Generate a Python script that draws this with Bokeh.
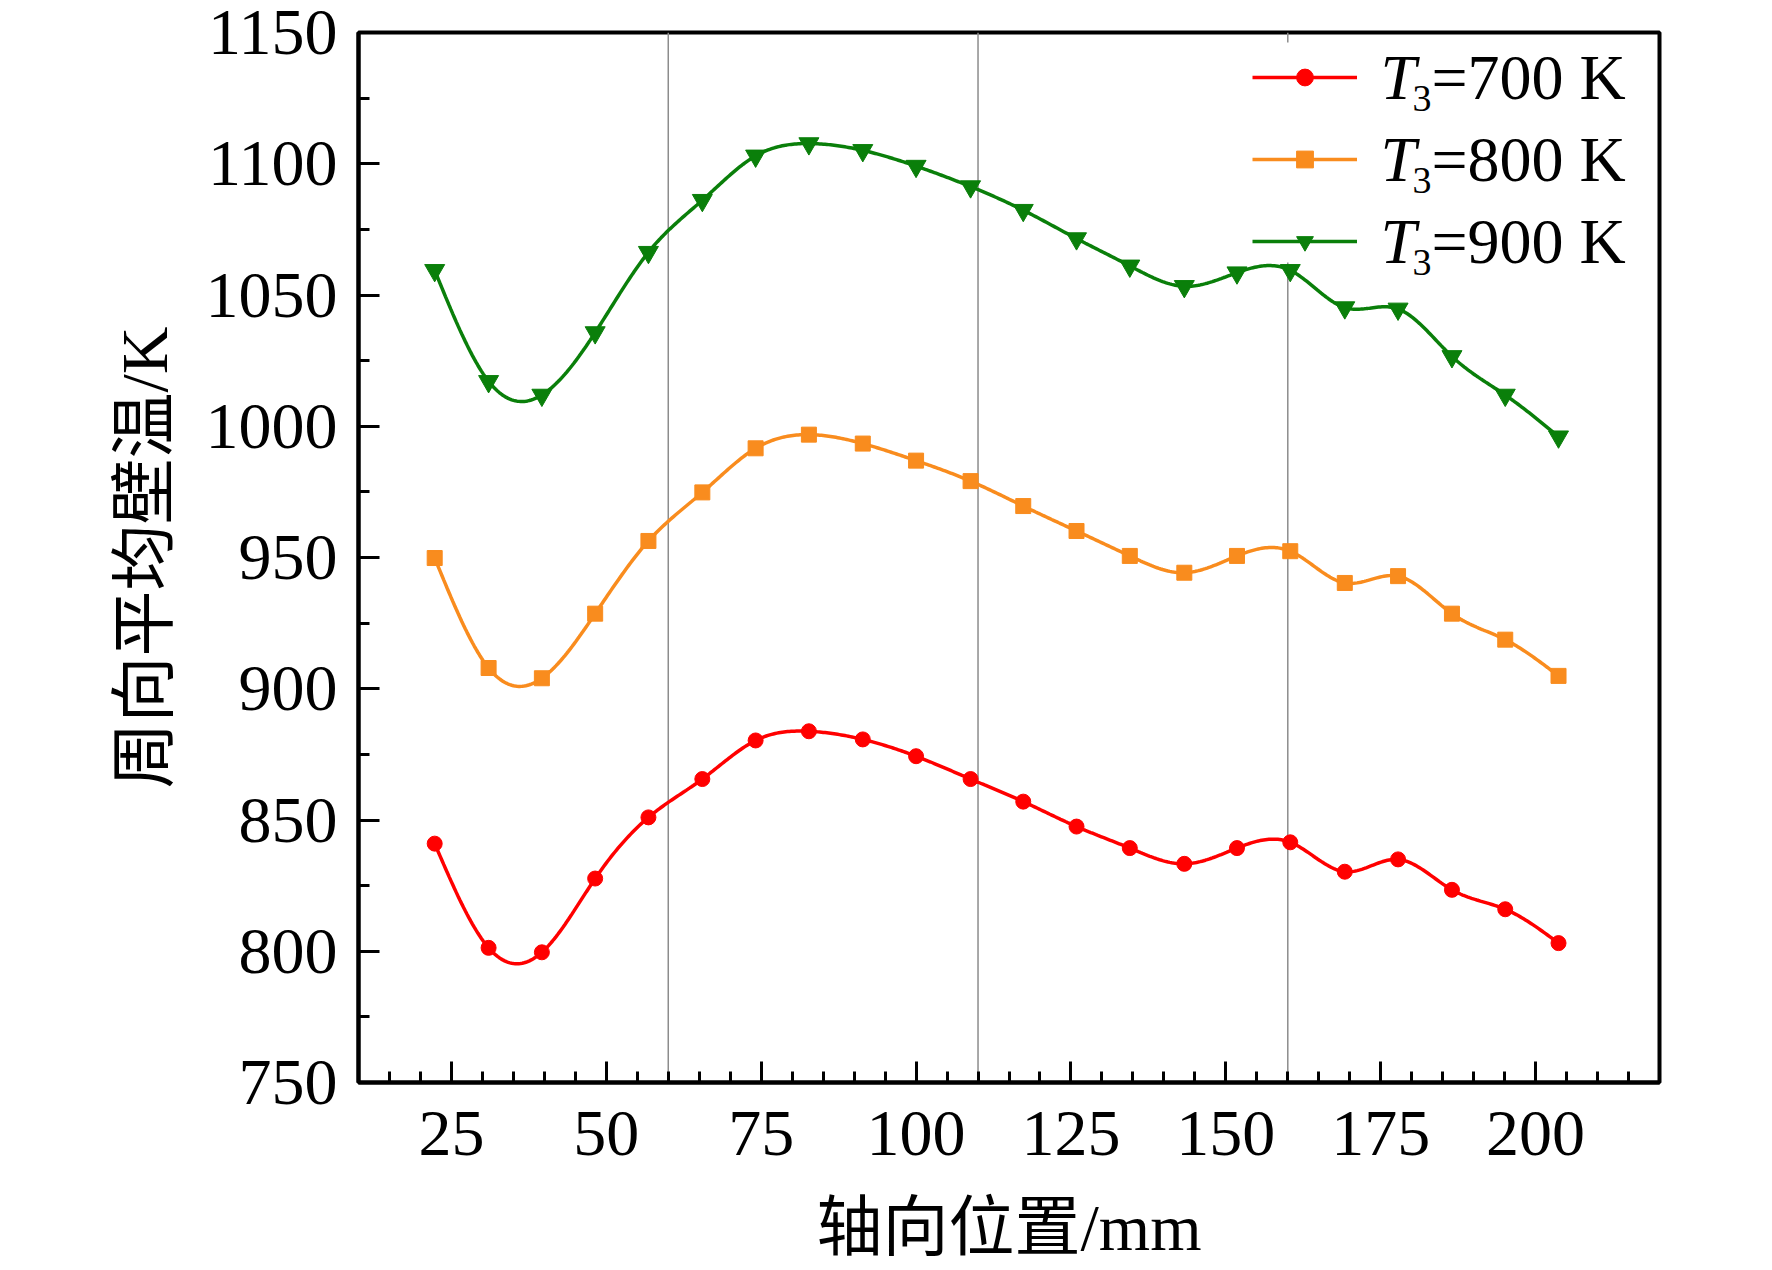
import numpy as np
from bokeh.plotting import figure
from bokeh.models import (Range1d, SingleIntervalTicker, Span, Legend, LegendItem, Label,
                          BoxAnnotation)
from bokeh.embed import file_html
from bokeh.resources import INLINE

# ---- data ----
x_mm = [22.3, 31.0, 39.6, 48.2, 56.8, 65.5, 74.1, 82.7, 91.4, 100.0, 108.8,
        117.3, 125.9, 134.5, 143.3, 151.8, 160.4, 169.2, 177.8, 186.5, 195.1, 203.7]
t700 = [841.0, 801.3, 799.6, 827.7, 851.0, 865.6, 880.3, 883.8, 880.7, 874.3, 865.6,
        857.0, 847.5, 839.3, 833.3, 839.3, 841.5, 830.3, 835.0, 823.4, 816.0, 803.1]
t800 = [949.8, 907.9, 904.0, 928.6, 956.3, 974.8, 991.6, 996.8, 993.4, 986.9, 979.1,
        969.6, 960.1, 950.6, 944.2, 950.6, 952.4, 940.3, 942.9, 928.6, 918.7, 904.9]
t900 = [1059.4, 1017.1, 1011.9, 1035.7, 1066.3, 1086.1, 1103.0, 1107.7, 1105.1, 1099.1, 1091.3,
        1082.3, 1071.5, 1061.1, 1053.3, 1058.5, 1059.4, 1045.2, 1044.7, 1026.6, 1011.9, 996.0]
series_values = [t700, t800, t900]
series_names = ["=700 K", "=800 K", "=900 K"]
series_colors = ["#FF0000", "#F98C1E", "#0A7F0A"]
series_markers = ["circle", "square", "inverted_triangle"]
marker_sizes = [15, 15, 20]
vline_positions = [60, 110, 160]
x_ticks_interval = 25
y_ticks_interval = 50

SERIF = "'Liberation Serif', 'Noto Sans CJK SC'"


def natural_spline(xs, ys, per_seg=30):
    """Smooth curve through the points (drawing only)."""
    xs = np.asarray(xs, float)
    ys = np.asarray(ys, float)
    n = len(xs)
    h = np.diff(xs)
    A = np.zeros((n, n))
    b = np.zeros(n)
    A[0, 0] = 1.0
    A[-1, -1] = 1.0
    for i in range(1, n - 1):
        A[i, i - 1] = h[i - 1]
        A[i, i] = 2 * (h[i - 1] + h[i])
        A[i, i + 1] = h[i]
        b[i] = 6 * ((ys[i + 1] - ys[i]) / h[i] - (ys[i] - ys[i - 1]) / h[i - 1])
    M = np.linalg.solve(A, b)
    out_x, out_y = [], []
    for i in range(n - 1):
        t = np.linspace(xs[i], xs[i + 1], per_seg, endpoint=(i == n - 2))
        a = xs[i + 1] - t
        c = t - xs[i]
        yy = (M[i] * a ** 3 + M[i + 1] * c ** 3) / (6 * h[i]) \
            + (ys[i] / h[i] - M[i] * h[i] / 6) * a + (ys[i + 1] / h[i] - M[i + 1] * h[i] / 6) * c
        out_x.extend(t.tolist())
        out_y.extend(yy.tolist())
    return out_x, out_y


p = figure(width=1756, height=1270, output_backend="svg", toolbar_location=None,
           x_range=Range1d(10, 220), y_range=Range1d(750, 1150),
           min_border_left=358, min_border_right=97, min_border_top=32, min_border_bottom=188)
p.background_fill_color = "white"
p.border_fill_color = "white"
p.grid.visible = False
p.outline_line_color = "black"
p.outline_line_width = 4

p.xaxis.ticker = SingleIntervalTicker(interval=x_ticks_interval, num_minor_ticks=5)
p.yaxis.ticker = SingleIntervalTicker(interval=y_ticks_interval, num_minor_ticks=2)

for ax in (p.xaxis[0], p.yaxis[0]):
    ax.axis_line_width = 4
    ax.axis_line_color = "black"
    ax.major_tick_in = 21
    ax.major_tick_out = 0
    ax.minor_tick_in = 11
    ax.minor_tick_out = 0
    ax.major_tick_line_width = 3
    ax.minor_tick_line_width = 3
    ax.major_label_text_font = SERIF
    ax.major_label_text_font_size = "66px"
    ax.major_label_text_color = "black"
    ax.axis_label_text_font = SERIF
    ax.axis_label_text_font_size = "66px"
    ax.axis_label_text_font_style = "normal"
    ax.axis_label_text_color = "black"

p.xaxis.axis_label = "轴向位置/mm"
p.yaxis.axis_label = "周向平均壁温/K"
p.xaxis.major_label_standoff = 29
p.yaxis.major_label_standoff = 21
p.xaxis.axis_label_standoff = 33
p.yaxis.axis_label_standoff = 22

for loc in vline_positions:
    p.add_layout(Span(location=loc, dimension="height", line_color="#8c8c8c",
                      line_width=1.5, level="underlay"))

# white backing of the legend area (hides the reference line behind the legend)
p.add_layout(BoxAnnotation(left=894, right=1280, top=1040, bottom=820,
                           left_units="screen", right_units="screen",
                           top_units="screen", bottom_units="screen",
                           fill_color="white", fill_alpha=1.0, line_color=None,
                           level="underlay", propagate_hover=False))

items = []
for vals, col, mk, ms in zip(series_values, series_colors, series_markers, marker_sizes):
    sx, sy = natural_spline(x_mm, vals)
    r_line = p.line(sx, sy, line_color=col, line_width=3.5)
    r_pts = p.scatter(x_mm, vals, marker=mk, size=ms, fill_color=col, line_color=col)
    items.append(LegendItem(label=" ", renderers=[r_line, r_pts]))

legend = Legend(items=items, location=(894, 820), orientation="vertical",
                glyph_width=105, glyph_height=42, label_height=42, label_width=240,
                label_standoff=4, spacing=40, padding=8, margin=0,
                border_line_color=None, background_fill_alpha=0.0,
                label_text_font_size="10px")
p.add_layout(legend)

# legend texts: italic T, subscript 3, then "=xxx K"
row_t_y = [1005, 923, 841]
row_sub_y = [984, 902, 820]
for ty, sy3, name in zip(row_t_y, row_sub_y, series_names):
    p.add_layout(Label(x=1022, y=ty, x_units="screen", y_units="screen", text="T",
                       text_font="Liberation Serif", text_font_style="italic",
                       text_font_size="64px", text_color="black", level="overlay",
                       text_align="left", text_baseline="alphabetic"))
    p.add_layout(Label(x=1054, y=sy3, x_units="screen", y_units="screen", text="3",
                       text_font="Liberation Serif", text_font_size="38px", text_color="black",
                       level="overlay", text_align="left", text_baseline="alphabetic"))
    p.add_layout(Label(x=1073, y=ty, x_units="screen", y_units="screen", text=name,
                       text_font="Liberation Serif", text_font_size="64px", text_color="black",
                       level="overlay", text_align="left", text_baseline="alphabetic"))

open("out.html", "w").write(file_html(p, INLINE))
